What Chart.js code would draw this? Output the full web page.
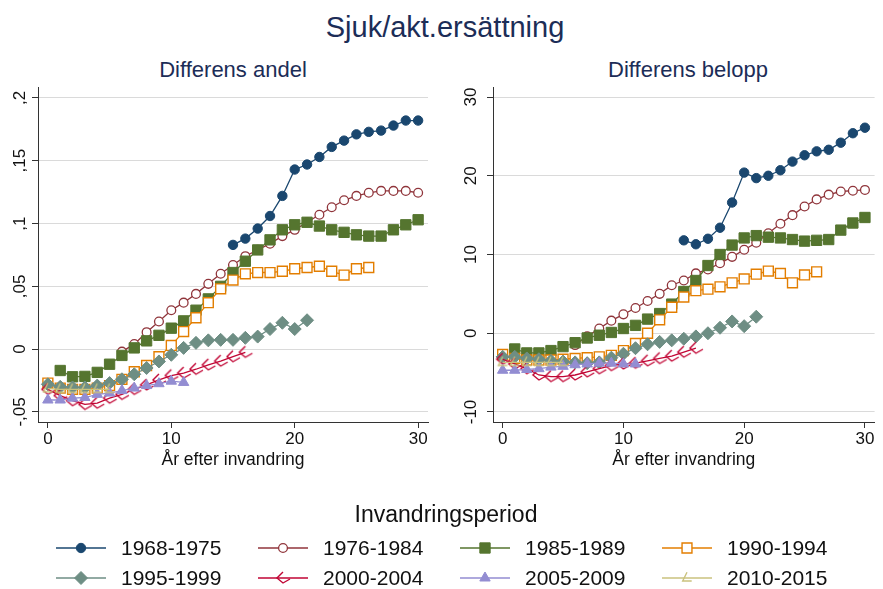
<!DOCTYPE html>
<html>
<head>
<meta charset="utf-8">
<script src="https://cdn.jsdelivr.net/npm/chart.js@4.4.0/dist/chart.umd.min.js"></script>
<style>
body { margin: 0; width: 883px; height: 589px; background: #fff; position: relative; overflow: hidden;
       font-family: "Liberation Sans", Arial, sans-serif; }
.t { position: absolute; transform: translate(-50%, -50%); white-space: nowrap; color: #1c2d57; }
canvas { position: absolute; }
</style>
</head>
<body>
<div class="t" style="left:445px;top:27px;font-size:29px">Sjuk/akt.ersättning</div>
<div class="t" style="left:233px;top:70px;font-size:22px">Differens andel</div>
<div class="t" style="left:688px;top:70px;font-size:22px">Differens belopp</div>
<canvas id="c1" width="440" height="402" style="left:0;top:78px"></canvas>
<canvas id="c2" width="440" height="402" style="left:443px;top:78px"></canvas>
<canvas id="leg" width="883" height="100" style="left:0;top:489px"></canvas>
<script>
// years since immigration
const years = [0,1,2,3,4,5,6,7,8,9,10,11,12,13,14,15,16,17,18,19,20,21,22,23,24,25,26,27,28,29,30];
const periods = ["1968-1975","1976-1984","1985-1989","1990-1994","1995-1999","2000-2004","2005-2009","2010-2015"];
// first observed year per period
const firstYear = [15, 6, 1, 0, 0, 0, 0, 0];

// Differens andel
const andel6875 = [0.083,0.088,0.096,0.106,0.122,0.143,0.147,0.153,0.161,0.166,0.171,0.173,0.174,0.178,0.182,0.182];
const andel7684 = [-0.002,0.004,0.0135,0.022,0.031,0.037,0.044,0.052,0.060,0.067,0.074,0.079,0.084,0.090,0.095,0.101,0.107,0.113,0.1185,0.122,0.1245,0.126,0.126,0.126,0.1245];
const andel8589 = [-0.017,-0.022,-0.0217,-0.0185,-0.012,-0.005,0.001,0.0066,0.011,0.0167,0.0225,0.031,0.040,0.050,0.061,0.070,0.079,0.087,0.095,0.099,0.101,0.098,0.095,0.093,0.091,0.090,0.090,0.095,0.099,0.103];
const andel9094 = [-0.027,-0.031,-0.032,-0.032,-0.031,-0.029,-0.024,-0.018,-0.013,-0.006,0.003,0.014,0.025,0.037,0.048,0.055,0.060,0.061,0.061,0.062,0.064,0.065,0.066,0.062,0.059,0.064,0.065];
const andel9599 = [-0.028,-0.030,-0.0305,-0.0305,-0.029,-0.027,-0.024,-0.020,-0.015,-0.0098,-0.0045,0.001,0.005,0.007,0.0074,0.0074,0.009,0.010,0.016,0.021,0.016,0.023];
const andel0004 = [-0.032,-0.037,-0.041,-0.044,-0.043,-0.039,-0.036,-0.032,-0.0285,-0.0245,-0.021,-0.019,-0.016,-0.0125,-0.0095,-0.006,-0.0025];
const andel0509 = [-0.0405,-0.0405,-0.039,-0.0385,-0.036,-0.035,-0.033,-0.031,-0.029,-0.0275,-0.0255,-0.0265];
const andel1015 = [-0.0315,-0.032,-0.032,-0.032,-0.032,-0.032];

// Differens belopp
const belopp6875 = [11.8,11.3,12.0,13.4,16.6,20.4,19.7,20.0,20.7,21.8,22.6,23.1,23.3,24.2,25.4,26.1];
const belopp7684 = [-1.5,-0.4,0.6,1.6,2.4,3.2,4.1,5.0,6.1,6.7,7.6,8.1,8.9,9.7,10.6,11.5,12.7,13.9,15.0,16.1,17.0,17.6,18.0,18.1,18.2];
const belopp8589 = [-2.0,-2.5,-2.5,-2.2,-1.7,-1.2,-0.6,-0.25,0.1,0.6,1.0,1.8,2.5,3.7,5.3,6.7,8.6,10.0,11.2,12.1,12.4,12.2,12.1,11.9,11.7,11.8,11.9,13.1,14.0,14.7];
const belopp9094 = [-2.7,-3.2,-3.4,-3.4,-3.4,-3.3,-3.2,-3.1,-3.0,-2.8,-2.2,-1.3,0.0,1.7,3.3,4.6,5.4,5.6,5.9,6.4,6.9,7.5,7.9,7.6,6.4,7.4,7.8];
const belopp9599 = [-3.0,-3.0,-3.2,-3.3,-3.5,-3.6,-3.7,-3.8,-3.7,-3.1,-2.6,-1.9,-1.4,-1.1,-0.9,-0.7,-0.4,0.0,0.7,1.5,0.9,2.1];
const belopp0004 = [-3.3,-3.9,-4.5,-5.3,-5.5,-5.5,-5.3,-4.9,-4.5,-4.1,-3.9,-3.8,-3.5,-3.2,-2.9,-2.4,-1.9];
const belopp0509 = [-4.7,-4.7,-4.6,-4.5,-4.3,-4.2,-4.0,-3.9,-3.8,-3.8,-3.9,-3.9];
const belopp1015 = [-3.7,-3.7,-3.7,-3.7,-3.7,-3.7];

const andelTicks = [-0.05, 0, 0.05, 0.1, 0.15, 0.2];
const andelLabels = ["-,05", "0", ",05", ",1", ",15", ",2"];
const beloppTicks = [-10, 0, 10, 20, 30];
const beloppLabels = ["-10", "0", "10", "20", "30"];
const xTicks = [0, 10, 20, 30];

const colors = ["#1a476f","#90353b","#55752f","#e37e00","#6e8e84","#c10534","#938dd2","#cac27e"];
const FONT = '"Liberation Sans", Arial, sans-serif';

// stata-ish custom markers
function markerCanvas(kind, color) {
  const c = document.createElement("canvas");
  c.width = 20; c.height = 20;
  const g = c.getContext("2d");
  g.strokeStyle = color; g.lineWidth = 1.4;
  g.beginPath();
  if (kind === "v") {
    g.moveTo(10, 4); g.lineTo(4, 10); g.lineTo(10, 15); g.lineTo(17, 11);
  } else {
    g.moveTo(10, 4.3); g.lineTo(5.7, 13); g.lineTo(14.7, 13);
  }
  g.stroke();
  return c;
}

const markers = [
  { pointStyle: "circle", radius: 4.7, fill: colors[0], bw: 1 },
  { pointStyle: "circle", radius: 4.4, fill: "#fff", bw: 1.3 },
  { pointStyle: "rect", radius: 7.3, fill: colors[2], bw: 1 },
  { pointStyle: "rect", radius: 7, fill: "#fff", bw: 1.4 },
  { pointStyle: "rectRot", radius: 6.5, fill: colors[4], bw: 1 },
  { pointStyle: markerCanvas("v", colors[5]), radius: 6, fill: "#fff", bw: 1.3 },
  { pointStyle: "triangle", radius: 6, fill: colors[6], bw: 1 },
  { pointStyle: markerCanvas("l", colors[7]), radius: 6, fill: "#fff", bw: 1.3 }
];

function toPoints(start, values) {
  return values.map((v, i) => ({ x: years[start + i], y: v }));
}

function makeDatasets(series) {
  return series.map((vals, i) => ({
    label: periods[i],
    data: toPoints(firstYear[i], vals),
    borderColor: colors[i],
    backgroundColor: markers[i].fill,
    borderWidth: 1.3,
    pointStyle: markers[i].pointStyle,
    pointRadius: markers[i].radius,
    pointBorderWidth: markers[i].bw,
    pointBorderColor: colors[i],
    pointBackgroundColor: markers[i].fill,
    tension: 0,
    order: -i
  }));
}

function yLabelPlugin(labels, gap) {
  return {
    id: "ylab",
    afterDraw(chart) {
      const sc = chart.scales.y, ctx = chart.ctx;
      ctx.save();
      ctx.font = "17px " + FONT;
      ctx.fillStyle = "#111";
      ctx.textAlign = "center";
      ctx.textBaseline = "middle";
      sc.ticks.forEach((t, i) => {
        ctx.save();
        ctx.translate(sc.right - gap, sc.getPixelForValue(t.value));
        ctx.rotate(-Math.PI / 2);
        ctx.fillText(labels[i], 0, 0);
        ctx.restore();
      });
      ctx.restore();
    }
  };
}

function makeChart(id, series, ymin, ymax, yticks, ylabels, yWidth, padRight, gap) {
  return new Chart(document.getElementById(id), {
    type: "line",
    data: { datasets: makeDatasets(series) },
    options: {
      responsive: false,
      animation: false,
      events: [],
      layout: { padding: { top: 9, right: padRight, left: 0, bottom: 0 } },
      plugins: { legend: { display: false }, tooltip: { enabled: false } },
      scales: {
        x: {
          type: "linear", min: -0.8, max: 30.8,
          afterBuildTicks: (sc) => { sc.ticks = xTicks.map(v => ({ value: v })); },
          afterFit: (sc) => { sc.height = 58; },
          grid: { drawOnChartArea: false, drawTicks: true, tickLength: 6, tickColor: "#333", tickWidth: 1 },
          border: { display: true, color: "#333", width: 1 },
          ticks: { color: "#111", font: { size: 17, family: FONT }, padding: 1, maxRotation: 0 },
          title: { display: true, text: "År efter invandring", color: "#111",
                   font: { size: 17.5, family: FONT }, padding: { top: 0, bottom: 9.5 } }
        },
        y: {
          type: "linear", min: ymin, max: ymax,
          afterBuildTicks: (sc) => { sc.ticks = yticks.map(v => ({ value: v })); },
          afterFit: (sc) => { sc.width = yWidth; },
          grid: { color: "#dadada", lineWidth: 1, drawTicks: true, tickLength: 6, tickColor: "#333" },
          border: { display: true, color: "#333", width: 1 },
          ticks: { display: false }
        }
      }
    },
    plugins: [yLabelPlugin(ylabels, gap)]
  });
}

makeChart("c1", [andel6875, andel7684, andel8589, andel9094, andel9599, andel0004, andel0509, andel1015],
  -0.058, 0.2087, andelTicks, andelLabels, 38, 12, 18);
makeChart("c2", [belopp6875, belopp7684, belopp8589, belopp9094, belopp9599, belopp0004, belopp0509, belopp1015],
  -11.27, 31.27, beloppTicks, beloppLabels, 50, 0, 22);

// legend
const lg = document.getElementById("leg").getContext("2d");
lg.fillStyle = "#111";
lg.font = "23px " + FONT;
lg.textAlign = "center";
lg.textBaseline = "middle";
lg.fillText("Invandringsperiod", 446, 27);
lg.font = "21px " + FONT;
lg.textAlign = "left";
const colX = [56, 258, 460, 662];
const rowY = [59, 89];
periods.forEach((p, i) => {
  const x0 = colX[i % 4], y = rowY[Math.floor(i / 4)];
  lg.strokeStyle = colors[i];
  lg.lineWidth = 1.5;
  lg.beginPath(); lg.moveTo(x0, y); lg.lineTo(x0 + 50, y); lg.stroke();
  const m = markers[i];
  lg.save();
  lg.strokeStyle = colors[i];
  lg.fillStyle = m.fill;
  lg.lineWidth = m.bw;
  if (Chart.helpers && Chart.helpers.drawPoint) {
    Chart.helpers.drawPoint(lg, { pointStyle: m.pointStyle, radius: m.radius, borderWidth: m.bw, rotation: 0 }, x0 + 25, y);
  }
  lg.restore();
  lg.fillStyle = "#111";
  lg.fillText(p, x0 + 65, y + 1);
});
</script>
</body>
</html>
